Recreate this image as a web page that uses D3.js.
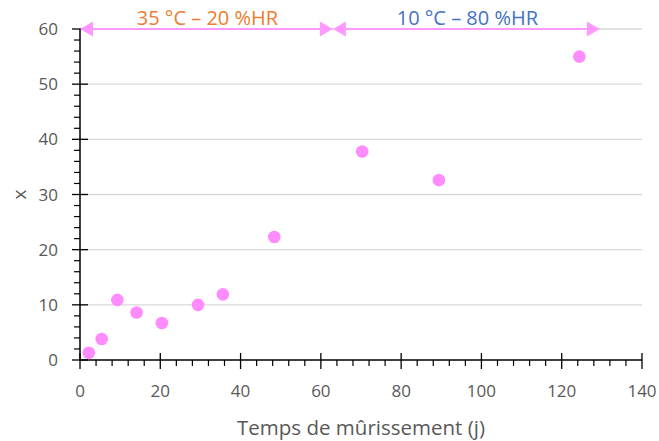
<!DOCTYPE html>
<html><head><meta charset="utf-8">
<script src="https://cdn.jsdelivr.net/npm/d3@7"></script>
<style>html,body{margin:0;padding:0;background:#fff;}</style>
</head><body>
<svg id="chart" width="659" height="441"></svg>
<script>
// Data
const days = [2.2, 5.4, 9.3, 14.1, 20.4, 29.4, 35.6, 48.4, 70.3, 89.4, 124.4];
const xValues = [1.3, 3.8, 10.9, 8.6, 6.7, 10.0, 11.9, 22.3, 37.8, 32.6, 55.0];
const xTicks = [0, 20, 40, 60, 80, 100, 120, 140];
const yTicks = [0, 10, 20, 30, 40, 50, 60];
const periodStart = [0, 63];
const periodEnd = [63, 129.5];
const periodLabels = ["35 °C – 20 %HR", "10 °C – 80 %HR"];
const periodColors = ["#ED7D31", "#4472C4"];
const xTitle = "Temps de mûrissement (j)";
const yTitle = "x";

(function () {
const svg = d3.select("#chart");
const pL = 80, pR = 642, pT = 29, pB = 360;
const x = d3.scaleLinear().domain([0, 140]).range([pL, pR]);
const y = d3.scaleLinear().domain([0, 60]).range([pB, pT]);
const font = "'Open Sans', 'Noto Sans', sans-serif";

// gridlines
svg.append("g").selectAll("line").data(yTicks.filter(d => d > 0)).join("line")
  .attr("x1", pL).attr("x2", pR)
  .attr("y1", d => y(d)).attr("y2", d => y(d))
  .attr("stroke", "#d9d9d9").attr("stroke-width", 1.3);

// minor ticks
const xMinor = d3.range(0, 141, 4).filter(d => d % 20 !== 0);
const yMinor = d3.range(0, 61, 2).filter(d => d % 10 !== 0);
svg.append("g").selectAll("line").data(xMinor).join("line")
  .attr("x1", d => x(d)).attr("x2", d => x(d))
  .attr("y1", pB).attr("y2", pB + 6)
  .attr("stroke", "#000").attr("stroke-width", 1.2);
svg.append("g").selectAll("line").data(yMinor).join("line")
  .attr("x1", pL - 6).attr("x2", pL)
  .attr("y1", d => y(d)).attr("y2", d => y(d))
  .attr("stroke", "#000").attr("stroke-width", 1.2);

// major ticks (cross)
svg.append("g").selectAll("line").data(xTicks).join("line")
  .attr("x1", d => x(d)).attr("x2", d => x(d))
  .attr("y1", pB - 7).attr("y2", pB + 9)
  .attr("stroke", "#000").attr("stroke-width", 1.3);
svg.append("g").selectAll("line").data(yTicks).join("line")
  .attr("x1", pL - 8).attr("x2", pL + 8)
  .attr("y1", d => y(d)).attr("y2", d => y(d))
  .attr("stroke", "#000").attr("stroke-width", 1.3);

// axis lines
svg.append("line").attr("x1", pL).attr("x2", pR).attr("y1", pB).attr("y2", pB)
  .attr("stroke", "#000").attr("stroke-width", 1.5);
svg.append("line").attr("x1", pL).attr("x2", pL).attr("y1", pT).attr("y2", pB)
  .attr("stroke", "#000").attr("stroke-width", 1.5);

// tick labels
svg.append("g").selectAll("text").data(xTicks).join("text")
  .attr("x", d => x(d)).attr("y", pB + 37)
  .attr("text-anchor", "middle").attr("font-family", font).attr("font-size", 17)
  .attr("fill", "#595959").text(d => d);
svg.append("g").selectAll("text").data(yTicks).join("text")
  .attr("x", pL - 22).attr("y", d => y(d) + 6)
  .attr("text-anchor", "end").attr("font-family", font).attr("font-size", 17)
  .attr("fill", "#595959").text(d => d);

// axis titles
svg.append("text").attr("x", 361).attr("y", 435)
  .attr("text-anchor", "middle").attr("font-family", font).attr("font-size", 20.5)
  .attr("fill", "#595959").text(xTitle);
svg.append("text").attr("transform", `translate(26,${(pT + pB) / 2}) rotate(-90)`)
  .attr("text-anchor", "middle").attr("font-family", font).attr("font-size", 19)
  .attr("fill", "#595959").text(yTitle);

// period arrows
const pink = "#FF99FF";
const hl = 13, hw = 7.5;
const ay = y(60);
const ag = svg.append("g");
periodStart.forEach((s, i) => {
  const x0 = x(s), x1 = x(periodEnd[i]);
  ag.append("line").attr("x1", x0 + hl - 1).attr("x2", x1 - hl + 1)
    .attr("y1", ay).attr("y2", ay).attr("stroke", pink).attr("stroke-width", 2.2);
  ag.append("path").attr("d", `M${x0},${ay} L${x0 + hl},${ay - hw} L${x0 + hl},${ay + hw} Z`).attr("fill", pink);
  ag.append("path").attr("d", `M${x1},${ay} L${x1 - hl},${ay - hw} L${x1 - hl},${ay + hw} Z`).attr("fill", pink);
  ag.append("text").attr("x", (x0 + x1) / 2 + 1).attr("y", 25)
    .attr("text-anchor", "middle").attr("font-family", font).attr("font-size", 20)
    .attr("fill", periodColors[i]).text(periodLabels[i]);
});

// points
svg.append("g").selectAll("circle").data(days.map((d, i) => [d, xValues[i]])).join("circle")
  .attr("cx", d => x(d[0])).attr("cy", d => y(d[1])).attr("r", 6.3)
  .attr("fill", "#FF8CFF");
})();
</script>
</body></html>
